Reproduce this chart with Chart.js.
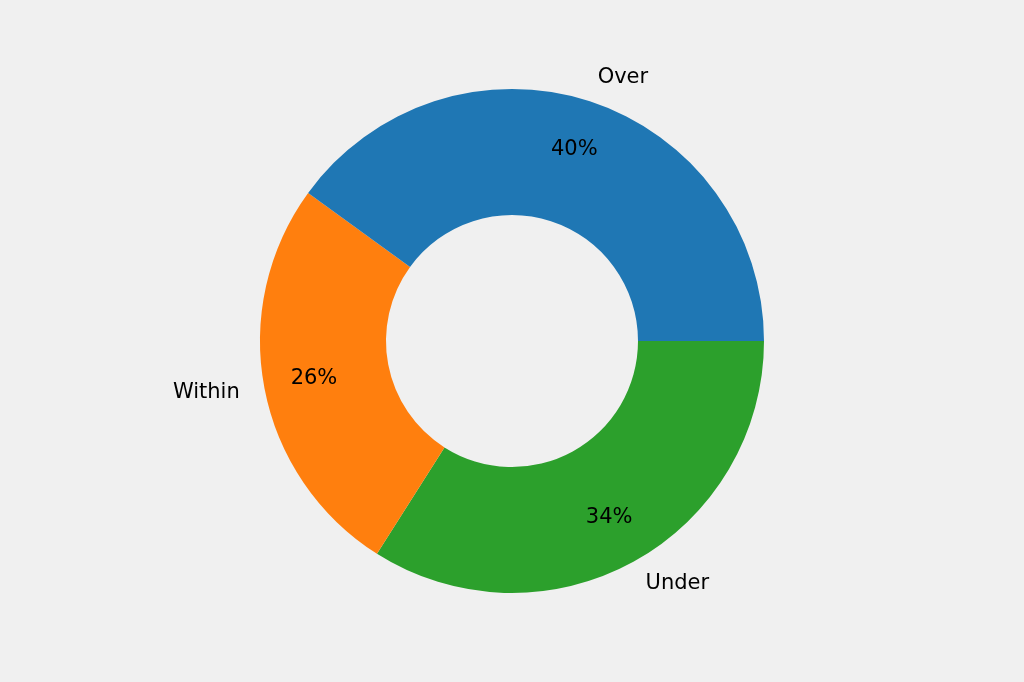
<!DOCTYPE html>
<html>
<head>
<meta charset="utf-8">
<script src="https://cdn.jsdelivr.net/npm/chart.js@4"></script>
<style>
  html, body { margin: 0; padding: 0; background: #f0f0f0; }
  #wrap { width: 1024px; height: 682px; }
</style>
</head>
<body>
<div id="wrap"><canvas id="chart"></canvas></div>
<script>
// Drawn clockwise from 3 o'clock, so order is reversed from the counter-clockwise original
const labels = ['Under', 'Within', 'Over'];
const values = [34, 26, 40];
const colors = ['#2ca02c', '#ff7f0e', '#1f77b4'];

const labelPlugin = {
    id: 'pieLabels',
    afterDatasetsDraw(chart) {
        const ctx = chart.ctx;
        const meta = chart.getDatasetMeta(0);
        const total = values.reduce((a, b) => a + b, 0);
        ctx.save();
        ctx.fillStyle = '#000';
        ctx.font = '21px "DejaVu Sans", sans-serif';
        ctx.textBaseline = 'middle';
        meta.data.forEach((arc, i) => {
            const mid = (arc.startAngle + arc.endAngle) / 2;
            const r = arc.outerRadius;
            const cx = arc.x, cy = arc.y;
            // percentage inside the ring
            ctx.textAlign = 'center';
            const pct = Math.round(values[i] / total * 100) + '%';
            ctx.fillText(pct, cx + Math.cos(mid) * r * 0.8, cy + Math.sin(mid) * r * 0.8);
            // category outside
            const lx = cx + Math.cos(mid) * r * 1.1;
            const ly = cy + Math.sin(mid) * r * 1.1;
            ctx.textAlign = Math.cos(mid) >= 0 ? 'left' : 'right';
            ctx.fillText(labels[i], lx, ly);
        });
        ctx.restore();
    }
};

new Chart(document.getElementById('chart').getContext('2d'), {
    type: 'doughnut',
    data: {
        labels: labels,
        datasets: [{
            data: values,
            backgroundColor: colors,
            borderWidth: 0
        }]
    },
    options: {
        responsive: true,
        maintainAspectRatio: false,
        animation: false,
        rotation: 90,
        cutout: '50%',
        layout: { padding: 89 },
        plugins: {
            legend: { display: false },
            tooltip: { enabled: false }
        }
    },
    plugins: [labelPlugin]
});
</script>
</body>
</html>
